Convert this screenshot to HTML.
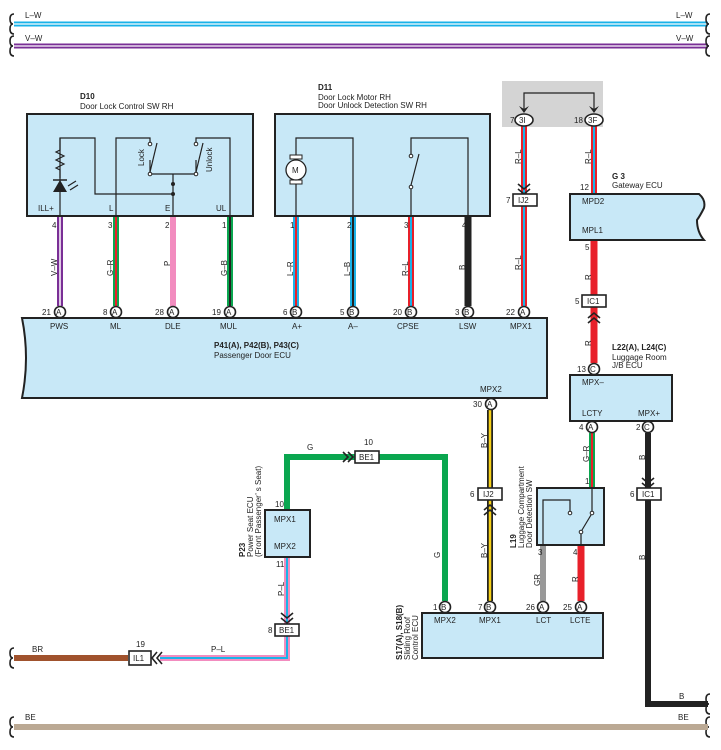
<!DOCTYPE html>
<html><head><meta charset="utf-8"><style>
html,body{margin:0;padding:0;background:#fff;}
svg{display:block;font-family:"Liberation Sans",Arial,sans-serif;}
text{font-size:8px;fill:#222;}
.b{font-weight:bold;}
.box{fill:#c8e8f7;stroke:#222;stroke-width:2;}
.ln{fill:none;stroke:#222;stroke-width:1.2;}
.circ{fill:#fff;stroke:#222;stroke-width:1.6;}
.cb{fill:#fff;stroke:#222;stroke-width:1.6;}
.chev{fill:none;stroke:#222;stroke-width:1.6;}
</style></head><body>
<svg width="721" height="750" viewBox="0 0 721 750" xmlns="http://www.w3.org/2000/svg">
<line x1="14" y1="24" x2="708" y2="24" stroke="#1ab2e8" stroke-width="5"/>
<line x1="14" y1="24" x2="708" y2="24" stroke="#fff" stroke-width="1.2"/>
<line x1="14" y1="46" x2="708" y2="46" stroke="#7a2f96" stroke-width="5"/>
<line x1="14" y1="46" x2="708" y2="46" stroke="#fff" stroke-width="1.2"/>
<text x="25" y="18">L–W</text><text x="676" y="18">L–W</text>
<text x="25" y="41">V–W</text><text x="676" y="41">V–W</text>
<g class="chev">
<path d="M14,14 q-4,0 -4,5 q0,5 3,5 q-3,0 -3,5 q0,5 4,5"/>
<path d="M14,36 q-4,0 -4,5 q0,5 3,5 q-3,0 -3,5 q0,5 4,5"/>
<path d="M710,14 q-4,0 -4,5 q0,5 3,5 q-3,0 -3,5 q0,5 4,5"/>
<path d="M710,36 q-4,0 -4,5 q0,5 3,5 q-3,0 -3,5 q0,5 4,5"/>
<path d="M14,648 q-4,0 -4,5 q0,5 3,5 q-3,0 -3,5 q0,5 4,5"/>
<path d="M14,717 q-4,0 -4,5 q0,5 3,5 q-3,0 -3,5 q0,5 4,5"/>
<path d="M710,717 q-4,0 -4,5 q0,5 3,5 q-3,0 -3,5 q0,5 4,5"/>
<path d="M710,694 q-4,0 -4,5 q0,5 3,5 q-3,0 -3,5 q0,5 4,5"/>
</g>

<line x1="14" y1="727" x2="708" y2="727" stroke="#bba994" stroke-width="6"/>
<text x="25" y="720">BE</text><text x="678" y="720">BE</text>
<line x1="14" y1="658" x2="128" y2="658" stroke="#a0522d" stroke-width="6"/>
<text x="32" y="652">BR</text>

<rect x="502" y="81" width="101" height="46" fill="#d4d4d4"/>
<path class="ln" d="M524,112 V93 H594 V112"/>
<path d="M519,106 L524,113 L529,106 L524,109Z" fill="#222"/>
<path d="M589,106 L594,113 L599,106 L594,109Z" fill="#222"/>

<g>
<line x1="60" y1="216" x2="60" y2="306" stroke="#7a2f96" stroke-width="6"/>
<line x1="60" y1="216" x2="60" y2="306" stroke="#fff" stroke-width="1.5"/>
<line x1="116" y1="216" x2="116" y2="306" stroke="#0aa64f" stroke-width="6"/>
<line x1="116" y1="216" x2="116" y2="306" stroke="#e8202a" stroke-width="2"/>
<line x1="173" y1="216" x2="173" y2="306" stroke="#f28cbf" stroke-width="6"/>
<line x1="230" y1="216" x2="230" y2="306" stroke="#0aa64f" stroke-width="6"/>
<line x1="230" y1="216" x2="230" y2="306" stroke="#222" stroke-width="2"/>
<line x1="296" y1="216" x2="296" y2="306" stroke="#1ab2e8" stroke-width="6"/>
<line x1="296" y1="216" x2="296" y2="306" stroke="#e8202a" stroke-width="2"/>
<line x1="353" y1="216" x2="353" y2="306" stroke="#1ab2e8" stroke-width="6"/>
<line x1="353" y1="216" x2="353" y2="306" stroke="#222" stroke-width="2"/>
<line x1="411" y1="216" x2="411" y2="306" stroke="#e8202a" stroke-width="6"/>
<line x1="411" y1="216" x2="411" y2="306" stroke="#1ab2e8" stroke-width="2"/>
<line x1="468" y1="216" x2="468" y2="306" stroke="#222" stroke-width="7"/>
<line x1="524" y1="126" x2="524" y2="306" stroke="#e8202a" stroke-width="6"/>
<line x1="524" y1="126" x2="524" y2="306" stroke="#1ab2e8" stroke-width="2"/>
<line x1="594" y1="126" x2="594" y2="194" stroke="#e8202a" stroke-width="6"/>
<line x1="594" y1="126" x2="594" y2="194" stroke="#1ab2e8" stroke-width="2"/>
<line x1="594" y1="240" x2="594" y2="363" stroke="#e8202a" stroke-width="7"/>
<line x1="490" y1="410" x2="490" y2="601" stroke="#222" stroke-width="6"/>
<line x1="490" y1="410" x2="490" y2="601" stroke="#f7d117" stroke-width="2.5"/>
<path d="M287,510 V457 H445 V601" fill="none" stroke="#0aa64f" stroke-width="6"/>
<path d="M287,557 V658 H160" fill="none" stroke="#f28cbf" stroke-width="6"/>
<path d="M287,557 V658 H160" fill="none" stroke="#1ab2e8" stroke-width="2"/>
<line x1="592" y1="433" x2="592" y2="488" stroke="#0aa64f" stroke-width="6"/>
<line x1="592" y1="433" x2="592" y2="488" stroke="#e8202a" stroke-width="2"/>
<line x1="543" y1="545" x2="543" y2="601" stroke="#999" stroke-width="6"/>
<line x1="581" y1="545" x2="581" y2="601" stroke="#e8202a" stroke-width="7"/>
<path d="M648,433 V704 H708" fill="none" stroke="#222" stroke-width="6"/>
</g>

<rect class="box" x="27" y="114" width="226" height="102"/>
<text class="b" x="80" y="99">D10</text>
<text x="80" y="109">Door Lock Control SW RH</text>
<path class="ln" d="M60,216 V138 H95 V194 H173"/>
<path class="ln" d="M60,138 V150 l-4,2 l8,4 l-8,4 l8,4 l-8,4 l4,2 V178"/>
<path d="M53,192 L60,180 L67,192Z" fill="#222"/><line x1="53" y1="180" x2="67" y2="180" stroke="#222" stroke-width="1.5"/>
<path class="ln" d="M68,186 l8,-5 M70,190 l8,-5"/>
<path class="ln" d="M116,216 V138 H150 V144 M150,160 V174 H196 V160 M196,144 V138 H230 V216 M173,174 V216"/>
<circle cx="150" cy="144" r="1.8" fill="#fff" stroke="#222"/><circle cx="150" cy="174" r="1.8" fill="#fff" stroke="#222"/>
<line x1="150" y1="172" x2="157" y2="143" stroke="#222" stroke-width="1.2"/>
<circle cx="196" cy="144" r="1.8" fill="#fff" stroke="#222"/><circle cx="196" cy="174" r="1.8" fill="#fff" stroke="#222"/>
<line x1="196" y1="172" x2="203" y2="143" stroke="#222" stroke-width="1.2"/>
<circle cx="173" cy="184" r="2" fill="#222"/><circle cx="173" cy="194" r="2" fill="#222"/>
<text transform="translate(144,166) rotate(-90)">Lock</text>
<text transform="translate(212,172) rotate(-90)">Unlock</text>
<text x="38" y="211">ILL+</text><text x="109" y="211">L</text><text x="165" y="211">E</text><text x="216" y="211">UL</text>
<text x="52" y="228">4</text><text x="108" y="228">3</text><text x="165" y="228">2</text><text x="222" y="228">1</text>
<text transform="translate(57,276) rotate(-90)">V–W</text>
<text transform="translate(113,276) rotate(-90)">G–R</text>
<text transform="translate(170,266) rotate(-90)">P</text>
<text transform="translate(227,276) rotate(-90)">G–B</text>

<rect class="box" x="275" y="114" width="215" height="102"/>
<text class="b" x="318" y="90">D11</text>
<text x="318" y="100">Door Lock Motor RH</text>
<text x="318" y="108">Door Unlock Detection SW RH</text>
<path class="ln" d="M296,216 V138 H353 V216"/>
<rect x="290" y="155" width="12" height="4" fill="#fff" stroke="#222"/>
<rect x="290" y="180" width="12" height="4" fill="#fff" stroke="#222"/>
<circle cx="296" cy="170" r="10" fill="#fff" stroke="#222" stroke-width="1.3"/>
<text x="292" y="173">M</text>
<path class="ln" d="M411,216 V188 M411,156 V138 H468 V216"/>
<circle cx="411" cy="156" r="1.8" fill="#fff" stroke="#222"/><circle cx="411" cy="187" r="1.8" fill="#fff" stroke="#222"/>
<line x1="411" y1="185" x2="419" y2="154" stroke="#222" stroke-width="1.2"/>
<text x="290" y="228">1</text><text x="347" y="228">2</text><text x="404" y="228">3</text><text x="462" y="228">4</text>
<text transform="translate(293,276) rotate(-90)">L–R</text>
<text transform="translate(350,276) rotate(-90)">L–B</text>
<text transform="translate(408,276) rotate(-90)">R–L</text>
<text transform="translate(465,270) rotate(-90)">B</text>
<text transform="translate(521,164) rotate(-90)">R–L</text>
<text transform="translate(521,270) rotate(-90)">R–L</text>
<text transform="translate(591,164) rotate(-90)">R–L</text>

<ellipse class="circ" cx="524" cy="120" rx="9" ry="6"/><text x="519" y="123">3I</text><text x="510" y="123">7</text>
<ellipse class="circ" cx="594" cy="120" rx="9" ry="6"/><text x="588" y="123">3F</text><text x="574" y="123">18</text>
<path class="chev" d="M518,184 l6,5 l6,-5 M518,189 l6,5 l6,-5"/>
<rect class="cb" x="513" y="194" width="24" height="12"/><text x="518" y="203">IJ2</text><text x="506" y="203">7</text>

<path class="box" d="M22,318 H547 V398 H22 Q30,358 22,318Z"/>
<g>
<circle class="circ" cx="60" cy="312" r="5.5"/><text x="56" y="315">A</text><text x="42" y="315">21</text>
<circle class="circ" cx="116" cy="312" r="5.5"/><text x="112" y="315">A</text><text x="103" y="315">8</text>
<circle class="circ" cx="173" cy="312" r="5.5"/><text x="169" y="315">A</text><text x="155" y="315">28</text>
<circle class="circ" cx="230" cy="312" r="5.5"/><text x="226" y="315">A</text><text x="212" y="315">19</text>
<circle class="circ" cx="296" cy="312" r="5.5"/><text x="292" y="315">B</text><text x="283" y="315">6</text>
<circle class="circ" cx="353" cy="312" r="5.5"/><text x="349" y="315">B</text><text x="340" y="315">5</text>
<circle class="circ" cx="411" cy="312" r="5.5"/><text x="407" y="315">B</text><text x="393" y="315">20</text>
<circle class="circ" cx="468" cy="312" r="5.5"/><text x="464" y="315">B</text><text x="455" y="315">3</text>
<circle class="circ" cx="524" cy="312" r="5.5"/><text x="520" y="315">A</text><text x="506" y="315">22</text>
</g>
<text x="50" y="329">PWS</text><text x="110" y="329">ML</text><text x="165" y="329">DLE</text><text x="220" y="329">MUL</text>
<text x="292" y="329">A+</text><text x="348" y="329">A–</text><text x="397" y="329">CPSE</text><text x="459" y="329">LSW</text><text x="510" y="329">MPX1</text>
<text class="b" x="214" y="348">P41(A), P42(B), P43(C)</text>
<text x="214" y="358">Passenger Door ECU</text>
<text x="480" y="392">MPX2</text>
<circle class="circ" cx="491" cy="404" r="5.5"/><text x="487" y="407">A</text><text x="473" y="407">30</text>

<path class="box" d="M570,194 H699 Q706,200 704,208 Q700,216 697,220 Q697,232 704,240 H570Z"/>
<text class="b" x="612" y="179">G 3</text><text x="612" y="188">Gateway ECU</text>
<text x="580" y="190">12</text>
<text x="582" y="204">MPD2</text><text x="582" y="233">MPL1</text>
<text x="585" y="250">5</text>
<text transform="translate(591,280) rotate(-90)">R</text>
<rect class="cb" x="582" y="295" width="24" height="12"/><text x="587" y="304">IC1</text><text x="575" y="304">5</text>
<path class="chev" d="M588,318 l6,-5 l6,5 M588,323 l6,-5 l6,5"/>
<text transform="translate(591,346) rotate(-90)">R</text>
<circle class="circ" cx="594" cy="369" r="5.5"/><text x="590" y="372">C</text><text x="577" y="372">13</text>
<text class="b" x="612" y="350">L22(A), L24(C)</text>
<text x="612" y="360">Luggage Room</text><text x="612" y="368">J/B ECU</text>
<rect class="box" x="570" y="375" width="102" height="46"/>
<text x="582" y="385">MPX–</text><text x="582" y="416">LCTY</text><text x="638" y="416">MPX+</text>
<circle class="circ" cx="592" cy="427" r="5.5"/><text x="588" y="430">A</text><text x="579" y="430">4</text>
<circle class="circ" cx="648" cy="427" r="5.5"/><text x="644" y="430">C</text><text x="636" y="430">2</text>
<text transform="translate(589,462) rotate(-90)">G–R</text>
<text transform="translate(645,460) rotate(-90)">B</text>
<path class="chev" d="M642,478 l6,5 l6,-5 M642,483 l6,5 l6,-5"/>
<rect class="cb" x="637" y="488" width="24" height="12"/><text x="642" y="497">IC1</text><text x="630" y="497">6</text>
<text transform="translate(645,560) rotate(-90)">B</text>
<text x="679" y="699">B</text>

<rect class="box" x="537" y="488" width="67" height="57"/>
<text x="585" y="484">1</text>
<path class="ln" d="M543,545 V500 H570 V513 M592,488 V512 M581,545 V533"/>
<circle cx="570" cy="513" r="1.8" fill="#fff" stroke="#222"/><circle cx="592" cy="513" r="1.8" fill="#fff" stroke="#222"/><circle cx="581" cy="532" r="1.8" fill="#fff" stroke="#222"/>
<line x1="582" y1="530" x2="591" y2="515" stroke="#222" stroke-width="1.2"/>
<text class="b" transform="translate(516,548) rotate(-90)">L19</text>
<text transform="translate(524,548) rotate(-90)">Luggage Compartment</text>
<text transform="translate(532,548) rotate(-90)">Door Detection SW</text>
<text x="538" y="555">3</text><text x="573" y="555">4</text>
<text transform="translate(540,586) rotate(-90)">GR</text>
<text transform="translate(578,582) rotate(-90)">R</text>

<rect class="cb" x="478" y="488" width="24" height="12"/><text x="483" y="497">IJ2</text><text x="470" y="497">6</text>
<path class="chev" d="M484,510 l6,-5 l6,5 M484,515 l6,-5 l6,5"/>
<text transform="translate(487,448) rotate(-90)">B–Y</text>
<text transform="translate(487,558) rotate(-90)">B–Y</text>

<text x="307" y="450">G</text>
<path class="chev" d="M343,452 l5,5 l-5,5 M348,452 l5,5 l-5,5"/>
<rect class="cb" x="355" y="451" width="24" height="12"/><text x="359" y="460">BE1</text><text x="364" y="445">10</text>
<text transform="translate(440,558) rotate(-90)">G</text>

<rect class="box" x="265" y="510" width="45" height="47"/>
<text x="274" y="522">MPX1</text><text x="274" y="549">MPX2</text>
<text x="275" y="507">10</text><text x="276" y="567">11</text>
<text class="b" transform="translate(245,557) rotate(-90)">P23</text>
<text transform="translate(253,557) rotate(-90)">Power Seat ECU</text>
<text transform="translate(261,557) rotate(-90)">(Front Passenger’ s Seat)</text>
<text transform="translate(284,596) rotate(-90)">P–L</text>
<path class="chev" d="M281,613 l6,5 l6,-5 M281,618 l6,5 l6,-5"/>
<rect class="cb" x="275" y="624" width="24" height="12"/><text x="279" y="633">BE1</text><text x="268" y="633">8</text>
<text x="211" y="652">P–L</text>
<path class="chev" d="M162,652 l-5,6 l5,6 M157,652 l-5,6 l5,6"/>
<rect class="cb" x="129" y="651" width="22" height="14"/><text x="133" y="661">IL1</text>
<text x="136" y="647">19</text>

<rect class="box" x="422" y="613" width="181" height="45"/>
<circle class="circ" cx="445" cy="607" r="5.5"/><text x="441" y="610">B</text><text x="433" y="610">1</text>
<circle class="circ" cx="490" cy="607" r="5.5"/><text x="486" y="610">B</text><text x="478" y="610">7</text>
<circle class="circ" cx="543" cy="607" r="5.5"/><text x="539" y="610">A</text><text x="526" y="610">26</text>
<circle class="circ" cx="581" cy="607" r="5.5"/><text x="577" y="610">A</text><text x="563" y="610">25</text>
<text x="434" y="623">MPX2</text><text x="479" y="623">MPX1</text><text x="536" y="623">LCT</text><text x="570" y="623">LCTE</text>
<text class="b" transform="translate(402,660) rotate(-90)">S17(A), S18(B)</text>
<text transform="translate(410,660) rotate(-90)">Sliding Roof</text>
<text transform="translate(418,660) rotate(-90)">Control ECU</text>
</svg>
</body></html>
